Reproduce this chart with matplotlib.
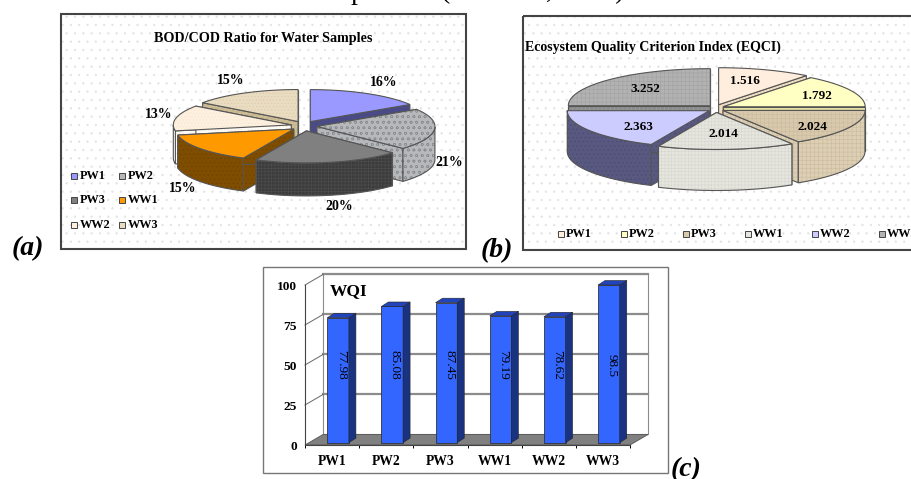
import numpy as np
import matplotlib
matplotlib.use('Agg')
import matplotlib.pyplot as plt
from matplotlib.patches import Polygon, Rectangle

plt.rcParams['font.family'] = ['Liberation Serif', 'DejaVu Serif']
plt.rcParams['hatch.linewidth'] = 0.4

samples = ['PW1', 'PW2', 'PW3', 'WW1', 'WW2', 'WW3']
bod_cod_pct = [16, 21, 20, 15, 13, 15]
eqci_values = [1.516, 1.792, 2.024, 2.014, 2.363, 3.252]
# slices of panel b as they are drawn, they do not follow the printed numbers exactly
eqci_drawn_pct = [10.6, 14.4, 16.1, 15.6, 18.3, 25.0]
wqi_values = [77.98, 85.08, 87.45, 79.19, 78.62, 98.5]
wqi_ticks = [0, 25, 50, 75, 100]

# top colour, side colour, hatch colour, hatch, hatch on the top too
colors_a = [('#9999ff', '#4a4a86', None, None, False),
            ('#b6b8ba', '#b6b8ba', '#8a8e92', 'ooo', True),
            ('#808080', '#3c3c3c', '#4e4e4e', '+++++', False),
            ('#ff9900', '#7f4d00', '#6e4300', '....', False),
            ('#fdf0df', '#fffdf8', '#f6e6d0', '.....', True),
            ('#eadcc0', '#c8b890', '#dccba8', '.....', True)]
colors_b = [('#ffeedd', '#f0dcc0', None, None, False),
            ('#ffffc4', '#ece8a8', None, None, False),
            ('#d8c9ac', '#dccfb4', '#cbbb9e', '++++', True),
            ('#e6e6e0', '#e6e6e0', '#d6d6ce', '+++++', True),
            ('#ccccff', '#585880', '#4c4c70', '....', False),
            ('#b2b2b2', '#8c8c8c', '#a2a2a2', '++++', True)]


def fill_poly(ax, pts, face, hatch_col=None, hatch=None, edge='#555555', lw=0.8, z=3):
    ax.add_patch(Polygon(pts, closed=True, facecolor=face, edgecolor=hatch_col or face,
                         hatch=hatch, linewidth=0, zorder=z, clip_on=False))
    ax.add_patch(Polygon(pts, closed=True, fill=False, edgecolor=edge, linewidth=lw,
                         zorder=z, clip_on=False))


def pie_3d(ax, shares, colors, cx, cy, rx, ry, depth, ex, ey):
    # clockwise from 12 o'clock, every slice pushed out along its middle angle
    edges = np.radians(np.cumsum([0] + list(shares)) / sum(shares) * 360)
    order = sorted(range(len(shares)), key=lambda i: -np.cos((edges[i] + edges[i + 1]) / 2))
    for k, i in enumerate(order):
        a0, a1 = edges[i], edges[i + 1]
        mid = (a0 + a1) / 2
        ax0 = cx + ex * np.sin(mid)
        ay0 = cy - ey * np.cos(mid)
        t = np.linspace(a0, a1, 60)
        arc = np.column_stack([ax0 + rx * np.sin(t), ay0 - ry * np.cos(t)])
        apex = np.array([ax0, ay0])
        top, side, hcol, hatch, on_top = colors[i]
        z = 3 + k * 0.1
        down = np.array([0, depth])
        # cut faces
        for p in (arc[0], arc[-1]):
            fill_poly(ax, [apex, p, p + down, apex + down], side, hcol, hatch, z=z)
        # outer wall, only the part facing the viewer
        front = np.cos(t) < 0
        if front.any():
            w = arc[front]
            fill_poly(ax, np.vstack([w, (w + down)[::-1]]), side, hcol, hatch, z=z + 0.01)
        fill_poly(ax, np.vstack([apex, arc]), top, hcol if on_top else None,
                  hatch if on_top else None, z=z + 0.02)


def panel(ax, x0, y0, x1, y1, lw=1.5):
    ax.add_patch(Rectangle((x0, y0), x1 - x0, y1 - y0, facecolor='white', edgecolor='#e2e2e2',
                           hatch='..', linewidth=0, zorder=1))
    ax.add_patch(Rectangle((x0, y0), x1 - x0, y1 - y0, fill=False, edgecolor='#444444',
                           linewidth=lw, zorder=2))


fig = plt.figure(figsize=(9.12, 4.79), dpi=100)
ax = fig.add_axes([0, 0, 1, 1])
ax.set_xlim(0, 912)
ax.set_ylim(479, 0)
ax.axis('off')

# line of body text cut by the top of the picture
ax.text(8, -1.5, 'statistical evaluation in all samples', fontsize=20, ha='left', va='baseline',
        clip_on=False)
ax.text(441, -1.5, '(Uhl et al, 2013).', fontsize=20, ha='left', va='baseline', clip_on=False)

# panel a
panel(ax, 61, 14, 466, 249)
ax.text(263, 38, 'BOD/COD Ratio for Water Samples', fontsize=10.2, fontweight='bold',
        ha='center', va='center', zorder=6)
pie_3d(ax, bod_cod_pct, colors_a, 304, 126, 118, 32, 33, 13, 5)
pct_xy = [(384, 82), (449, 162), (339, 206), (183, 189), (159, 114), (231, 80)]
for v, (x, y) in zip(bod_cod_pct, pct_xy):
    ax.text(x, y, f'{v}%', fontsize=10, fontweight='bold', ha='center', va='center', zorder=6)
leg_xy = [(71, 176), (119, 176), (71, 200), (119, 200), (71, 225), (119, 225)]
for name, c, (x, y) in zip(samples, colors_a, leg_xy):
    ax.add_patch(Rectangle((x, y - 3), 6, 6, facecolor=c[0], edgecolor='#444444', linewidth=0.7,
                           zorder=5))
    ax.text(x + 9, y, name, fontsize=8.8, fontweight='bold', ha='left', va='center', zorder=6)

# panel b
panel(ax, 523, 16, 930, 250)
ax.text(525, 47, 'Ecosystem Quality Criterion Index (EQCI)', fontsize=10, fontweight='bold',
        ha='left', va='center', zorder=6)
pie_3d(ax, eqci_drawn_pct, colors_b, 716, 108.5, 142, 37, 41, 8, 4)
val_xy = [(745, 81), (817, 96), (812, 127), (723, 134), (638, 127), (645, 89)]
for v, (x, y) in zip(eqci_values, val_xy):
    ax.text(x, y, f'{v:.3f}', fontsize=9.5, fontweight='bold', ha='center', va='center', zorder=6)
leg_x = [558, 621, 683, 745, 812, 879]
for name, c, x in zip(samples, colors_b, leg_x):
    ax.add_patch(Rectangle((x, 231), 6, 6, facecolor=c[0], edgecolor='#444444', linewidth=0.7,
                           zorder=5))
    ax.text(x + 8, 234, name, fontsize=8.8, fontweight='bold', ha='left', va='center', zorder=6)

# panel c
ax.add_patch(Rectangle((263, 267), 405, 206, facecolor='white', edgecolor='#777777',
                       linewidth=1.0, zorder=1))

ax.text(12, 255, '(a)', fontsize=20, fontweight='bold', fontstyle='italic', va='baseline')
ax.text(481, 257, '(b)', fontsize=20, fontweight='bold', fontstyle='italic', va='baseline')
ax.text(671, 476, '(c)', fontsize=20, fontweight='bold', fontstyle='italic', va='baseline')

bx = fig.add_axes([305 / 912, (479 - 445) / 479, 325 / 912, 160 / 479])
bx.patch.set_alpha(0)
bx.set_xlim(0, 6)
bx.set_ylim(0, 100)
off_x, off_y = 0.335, 6.6

bx.add_patch(Polygon([(off_x, off_y), (6 + off_x, off_y), (6 + off_x, 100 + off_y), (off_x, 100 + off_y)],
                     closed=True, fill=False, edgecolor='#8c8c8c', linewidth=0.8, clip_on=False, zorder=1))
bx.add_patch(Polygon([(0, 0), (6, 0), (6 + off_x, off_y), (off_x, off_y)], closed=True,
                     facecolor='#808080', edgecolor='#555555', linewidth=0.6, clip_on=False, zorder=1))
for v in wqi_ticks[1:]:
    bx.plot([off_x, 6 + off_x], [v + off_y, v + off_y], color='#8c8c8c', lw=1.6, clip_on=False, zorder=1)
    bx.plot([0, off_x], [v, v + off_y], color='#666666', lw=0.7, clip_on=False, zorder=1)

pos = np.arange(len(samples)) + 0.5
bar_pos = pos + 0.11
bar_w = 0.4
lift = 1.5
side_x, side_y = 0.13, 2.8
bx.bar(bar_pos, wqi_values, width=bar_w, bottom=lift, color='#3366ff', edgecolor='#333333',
       linewidth=0.6, zorder=3)
for x, v in zip(bar_pos, wqi_values):
    r = x + bar_w / 2
    l = x - bar_w / 2
    t = v + lift
    bx.add_patch(Polygon([(r, lift), (r + side_x, lift + side_y), (r + side_x, t + side_y), (r, t)],
                         closed=True, facecolor='#1a3380', edgecolor='#222222', linewidth=0.4,
                         clip_on=False, zorder=3))
    bx.add_patch(Polygon([(l, t), (r, t), (r + side_x, t + side_y), (l + side_x, t + side_y)],
                         closed=True, facecolor='#2244bb', edgecolor='#222222', linewidth=0.4,
                         clip_on=False, zorder=3))
    bx.text(x + 0.05, 50, f'{v:g}', rotation=270, fontsize=9.5, ha='center', va='center', zorder=4)

bx.text(0.46, 96, 'WQI', fontsize=12.5, fontweight='bold', ha='left', va='center', zorder=4)

bx.set_yticks(wqi_ticks)
bx.set_yticklabels(wqi_ticks, fontsize=9.6, fontweight='bold')
bx.set_xticks(pos)
bx.set_xticklabels(samples, fontsize=9.8, fontweight='bold')
bx.set_xticks(np.arange(7), minor=True)
bx.tick_params(axis='x', which='major', length=0, pad=7)
bx.tick_params(axis='x', which='minor', length=2.5, width=0.7)
bx.tick_params(axis='y', length=0, pad=6)
for s in ['top', 'right']:
    bx.spines[s].set_visible(False)
for s in ['left', 'bottom']:
    bx.spines[s].set_color('#444444')
    bx.spines[s].set_linewidth(0.8)

fig.savefig('out.png', dpi=100)
